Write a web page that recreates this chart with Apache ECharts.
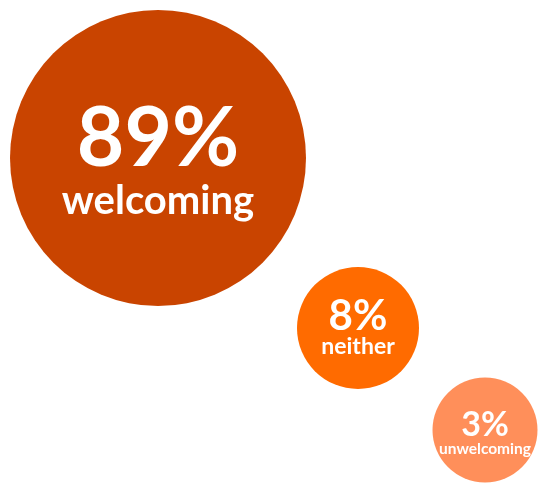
<!DOCTYPE html>
<html>
<head>
<meta charset="utf-8">
<style>
  html, body { margin: 0; padding: 0; background: #ffffff; }
  #chart { width: 540px; height: 483px; }
</style>
<script src="https://cdn.jsdelivr.net/npm/echarts@6/dist/echarts.min.js"></script>
</head>
<body>
<div id="chart"></div>
<script>
// Share of responses by how welcoming people found it
const categories = ['welcoming', 'neither', 'unwelcoming'];
const shares = [89, 8, 3];

// Layout of the bubbles (in a 540 x 483 coordinate space) and their look
const bubbleX = [158, 358, 485];
const bubbleY = [158, 328, 430];
const bubbleDiameter = [296, 122, 105];
const bubbleColor = ['#C94400', '#FF6B00', '#FF8F5A'];
const valueFont = [82, 42, 34];
const valueLine = [78, 38, 29];
const nameFont = [40, 23, 15.5];
const nameLine = [44, 24, 17];
const labelOffset = [4, 0, 4];

const fontFamily = 'Lato, "Noto Sans", sans-serif';

const data = categories.map((name, i) => ({
  name: name,
  value: [bubbleX[i], bubbleY[i], shares[i]],
  symbolSize: bubbleDiameter[i],
  itemStyle: { color: bubbleColor[i], opacity: 1 },
  label: {
    show: true,
    position: 'inside',
    offset: [0, labelOffset[i]],
    opacity: 1,
    formatter: '{v|' + shares[i] + '%}\n{n|' + name + '}',
    rich: {
      v: {
        fontSize: valueFont[i], fontWeight: 'bold', color: '#ffffff',
        fontFamily: fontFamily, lineHeight: valueLine[i], align: 'center'
      },
      n: {
        fontSize: nameFont[i], fontWeight: 'bold', color: '#ffffff',
        fontFamily: fontFamily, lineHeight: nameLine[i], align: 'center'
      }
    }
  }
}));

const chart = echarts.init(document.getElementById('chart'), null, { renderer: 'canvas' });
chart.setOption({
  animation: false,
  backgroundColor: '#ffffff',
  grid: { left: 0, right: 0, top: 0, bottom: 0 },
  xAxis: { type: 'value', min: 0, max: 540, show: false },
  yAxis: { type: 'value', min: 0, max: 483, inverse: true, show: false },
  series: [{
    type: 'scatter',
    symbol: 'circle',
    itemStyle: { opacity: 1 },
    data: data,
    emphasis: { disabled: true }
  }]
});
</script>
</body>
</html>
